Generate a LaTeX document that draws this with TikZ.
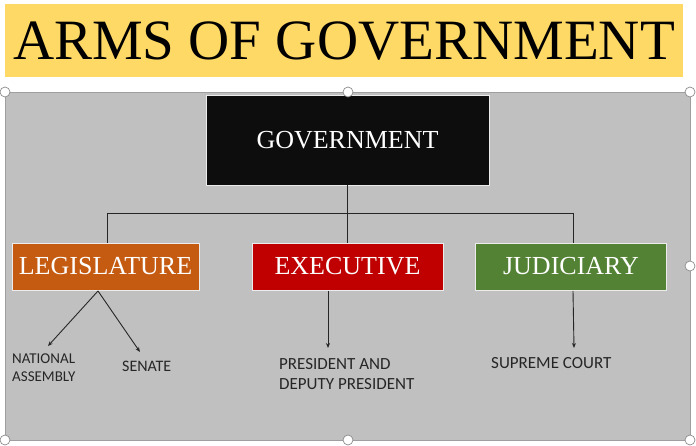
\documentclass[tikz,border=0pt]{standalone}
\usepackage{fontspec}
\setmainfont{Liberation Serif}
\newfontfamily\calib{Carlito}
\usetikzlibrary{arrows.meta}
\definecolor{banner}{HTML}{FFD966}
\definecolor{panel}{HTML}{C0C0C0}
\definecolor{legis}{HTML}{C55A11}
\definecolor{exec}{HTML}{C00000}
\definecolor{judic}{HTML}{548235}
\definecolor{govbox}{HTML}{0D0D0D}
\tikzset{
  armbox/.style={draw=white!85!gray, line width=0.8pt, text=white, inner sep=0pt, font=\fontsize{26}{30}\selectfont},
  conn/.style={draw=black!85, line width=0.9pt},
  arr/.style={conn, -{Stealth[length=5pt,width=4pt]}},
  lbl/.style={font=\calib\fontsize{17}{20}\selectfont, text=black!85, inner sep=0pt},
  handle/.style={circle, draw=gray!90, fill=white, line width=0.7pt, minimum size=10pt, inner sep=0pt}
}
\begin{document}
\begin{tikzpicture}[x=1pt,y=-1pt]
\useasboundingbox (0,0) rectangle (696,446);
\fill[white] (0,0) rectangle (696,446);
% banner
\node[fill=banner, minimum width=678pt, minimum height=73pt, inner sep=0pt,
  font=\fontsize{57}{60}\selectfont] (title) at (344,41) {ARMS OF GOVERNMENT};
% panel
\draw[fill=panel, draw=gray!75, line width=0.6pt] (5,92) rectangle (690,440);
% boxes
\node[armbox, fill=govbox, minimum width=283pt, minimum height=90pt] (gov) at (347.5,140) {GOVERNMENT};
\node[armbox, fill=legis, minimum width=187pt, minimum height=47pt] (leg) at (105.5,266.5) {LEGISLATURE};
\node[armbox, fill=exec, minimum width=191pt, minimum height=47pt] (exe) at (347.5,266.5) {EXECUTIVE};
\node[armbox, fill=judic, minimum width=191pt, minimum height=47pt] (jud) at (571,266.5) {JUDICIARY};
% connectors
\coordinate (bar) at (347.5,213);
\coordinate (barL) at (107,213);
\coordinate (barR) at (573,213);
\draw[conn] (gov.south) -- (bar);
\draw[conn] (bar) -- (exe.north);
\draw[conn] (barL) -- (barR);
\draw[conn] (barL) -- (barL |- leg.north);
\draw[conn] (barR) -- (barR |- jud.north);
% labels
\node[lbl, font=\calib\fontsize{15}{18}\selectfont, align=left, anchor=west] (na) at (12,368) {NATIONAL\\ASSEMBLY};
\node[lbl, font=\calib\fontsize{16}{19}\selectfont, anchor=west] (sen) at (122,366) {SENATE};
\node[lbl, align=left, anchor=west] (pres) at (279,374.5) {PRESIDENT AND\\DEPUTY PRESIDENT};
\node[lbl, anchor=west] (sup) at (491,363) {SUPREME COURT};
\coordinate (legfoot) at (98,291);
\coordinate (naend) at (48,346);
\coordinate (senend) at (140,352);
\draw[arr] (legfoot) -- (naend);
\draw[arr] (legfoot) -- (senend);
\coordinate (exefoot) at (328,291);
\coordinate (exeend) at (328,348);
\draw[arr] (exefoot) -- (exeend);
\coordinate (judfoot) at (573,291);
\coordinate (judend) at (574,348);
\draw[arr] (judfoot) -- (judend);
% selection handles
\foreach \p/\n in {{(5,92)}/h1,{(348,92)}/h2,{(690,92)}/h3,{(690,266)}/h4,{(5,440)}/h5,{(348,440)}/h6,{(690,440)}/h7}
  \node[handle] (\n) at \p {};
\end{tikzpicture}
\end{document}
